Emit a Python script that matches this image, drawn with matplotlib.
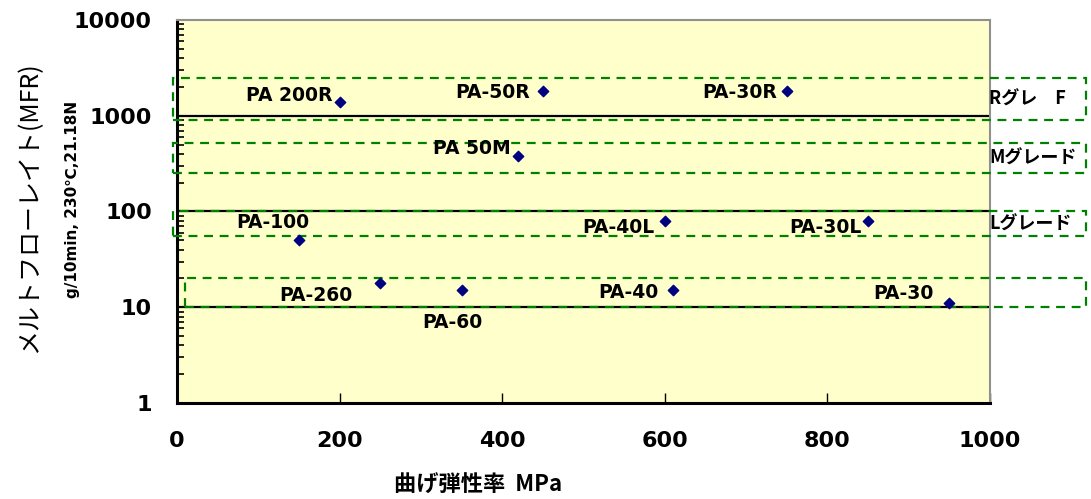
import matplotlib
matplotlib.use("Agg")
import matplotlib.pyplot as plt
from matplotlib.patches import Rectangle
from matplotlib.ticker import LogLocator, NullFormatter, FixedLocator

plt.rcParams['font.family'] = ['DejaVu Sans', 'Noto Sans CJK JP']

# ---- data ----
names = ["PA 200R", "PA-50R", "PA-30R", "PA 50M", "PA-100", "PA-40L",
         "PA-30L", "PA-260", "PA-60", "PA-40", "PA-30"]
modulus = [200, 450, 750, 420, 150, 600, 850, 250, 350, 610, 950]
mfr = [1400, 1800, 1800, 380, 50, 80, 80, 18, 15, 15, 11]

grade_names = ["Rグレ　F", "Mグレード", "Lグレード", ""]
grade_low = [900, 250, 55, 10]
grade_high = [2500, 520, 100, 20]

x_ticks = [0, 200, 400, 600, 800, 1000]
y_ticks = [1, 10, 100, 1000, 10000]
y_ticklabels = ["1", "10", "100", "1000", "10000"]

# label offsets in pixels (style/layout)
offsets = [(-7, 6, 'right'), (-13, -1, 'right'), (-10, -1, 'right'),
           (-8, 7, 'right'), (-26, 18, 'center'), (-10, -7, 'right'),
           (-6, -7, 'right'), (-28, -13, 'right'), (-9, -32, 'center'),
           (-14, -2, 'right'), (-16, 10, 'right')]

fig = plt.figure(figsize=(10.91, 4.99), dpi=100)
ax = fig.add_axes([0.1622, 0.1924, 0.9074 - 0.1622, 0.96 - 0.1924])
ax.set_facecolor('#FFFFCC')
ax.set_xlim(0, 1000)
ax.set_yscale('log')
ax.set_ylim(1, 10000)

# black decade lines
for v in [10, 100, 1000]:
    ax.axhline(v, color='black', lw=1.6, zorder=2)

# green dashed grade boxes
for i, (lo, hi) in enumerate(zip(grade_low, grade_high)):
    x0 = -5 if i < 3 else 10
    x1 = 1118
    ax.add_patch(Rectangle((x0, lo), x1 - x0, hi - lo, fill=False,
                           edgecolor='#008000', lw=1.6, ls=(0, (4, 3)),
                           clip_on=False, zorder=3))
    if grade_names[i]:
        ax.text(999, (lo * hi) ** 0.5, grade_names[i], ha='left', va='center',
                fontsize=13, fontweight='bold', clip_on=False,
                family=['Noto Sans CJK JP', 'DejaVu Sans'])

ax.scatter(modulus, mfr, marker='D', s=28, color='#000080', zorder=5)
for n, x, y, (dx, dy, ha) in zip(names, modulus, mfr, offsets):
    ax.annotate(n, (x, y), xytext=(dx, dy), textcoords='offset pixels',
                ha=ha, va='center', fontsize=13.5, fontweight='bold', zorder=6)

# axes styling
for s in ['left', 'bottom']:
    ax.spines[s].set_linewidth(2.2)
    ax.spines[s].set_color('black')
for s in ['top', 'right']:
    ax.spines[s].set_linewidth(1.5)
    ax.spines[s].set_color('#909090')

ax.xaxis.set_major_locator(FixedLocator(x_ticks))
ax.set_xticklabels([str(t) for t in x_ticks], fontsize=16, fontweight='bold')
ax.yaxis.set_major_locator(FixedLocator(y_ticks))
ax.set_yticklabels(y_ticklabels, fontsize=16, fontweight='bold')
ax.yaxis.set_minor_locator(LogLocator(base=10, subs=range(2, 10)))
ax.yaxis.set_minor_formatter(NullFormatter())
ax.tick_params(axis='x', direction='in', length=7, width=1, pad=20)
ax.tick_params(axis='y', which='major', direction='in', length=8, width=1.2, pad=18)
ax.tick_params(axis='y', which='minor', direction='in', length=5, width=1.2)

fig.text(0.438, 0.028, "曲げ弾性率  MPa", ha='center', va='center', fontsize=16,
         fontweight='bold', family=['Noto Sans CJK JP', 'DejaVu Sans'])
fig.text(0.027, 0.585, "メルトフローレイト(MFR)", rotation=90, ha='center', va='center',
         fontsize=18, family=['Noto Sans CJK JP', 'DejaVu Sans'])
fig.text(0.066, 0.6, "g/10min, 230℃,21.18N", rotation=90, ha='center', va='center',
         fontsize=11, fontweight='bold', family=['DejaVu Sans', 'Noto Sans CJK JP'])

fig.savefig('out.png', dpi=100)
